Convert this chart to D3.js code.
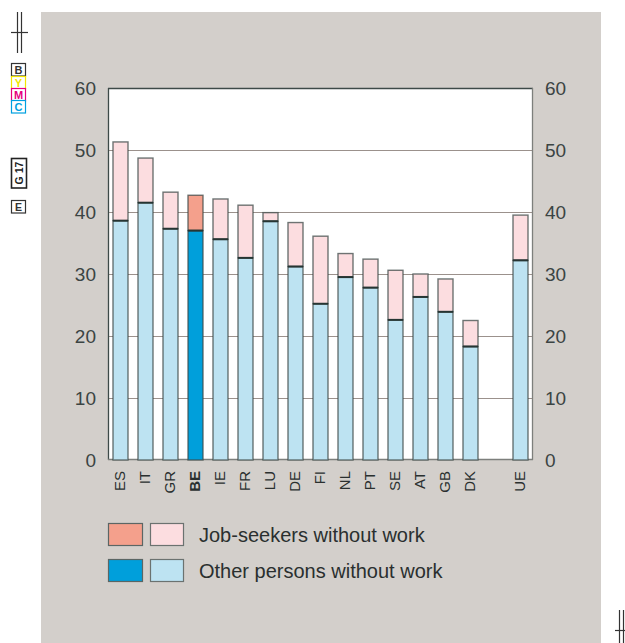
<!DOCTYPE html>
<html>
<head>
<meta charset="utf-8">
<script src="https://cdn.jsdelivr.net/npm/d3@7"></script>
<style>
  html, body { margin: 0; padding: 0; background: #ffffff; }
  svg { display: block; font-family: "Liberation Sans", Arial, sans-serif; }
</style>
</head>
<body>
<svg id="chart" width="625" height="643"></svg>
<script>
// Share of people without work, by country (%)
const countries = ["ES", "IT", "GR", "BE", "IE", "FR", "LU", "DE", "FI", "NL", "PT", "SE", "AT", "GB", "DK", "", "UE"];
const otherPersons = [38.6, 41.5, 37.3, 37.0, 35.6, 32.6, 38.5, 31.2, 25.2, 29.5, 27.8, 22.6, 26.3, 23.9, 18.3, null, 32.2];
const totalWithoutWork = [51.3, 48.7, 43.2, 42.7, 42.1, 41.1, 39.9, 38.3, 36.1, 33.3, 32.4, 30.6, 30.0, 29.2, 22.5, null, 39.5];
const yTicks = [0, 10, 20, 30, 40, 50, 60];
const highlight = "BE";
const legendLabels = ["Job-seekers without work", "Other persons without work"];

const colors = {
  seekLight: "#fcdde0", seekDark: "#f4a08c",
  otherLight: "#bde3f2", otherDark: "#009fdb",
  panel: "#d3cfcb", text: "#3b4443", stroke: "#3d4a48", grid: "#9b918c"
};

const svg = d3.select("#chart");

// print-style margin marks
const marks = svg.append("g").attr("stroke", "#333").attr("fill", "none").attr("stroke-width", 1.2);
marks.append("line").attr("x1", 17.5).attr("x2", 17.5).attr("y1", 12).attr("y2", 53);
marks.append("line").attr("x1", 21.5).attr("x2", 21.5).attr("y1", 12).attr("y2", 53);
marks.append("line").attr("x1", 11).attr("x2", 28).attr("y1", 32.5).attr("y2", 32.5);
marks.append("line").attr("x1", 619.5).attr("x2", 619.5).attr("y1", 610).attr("y2", 643);
marks.append("line").attr("x1", 623.5).attr("x2", 623.5).attr("y1", 610).attr("y2", 643);
marks.append("line").attr("x1", 615).attr("x2", 625).attr("y1", 630.5).attr("y2", 630.5);

const boxes = [
  { t: "B", y: 63, c: "#333" },
  { t: "Y", y: 76, c: "#f2e600" },
  { t: "M", y: 88, c: "#e5007e" },
  { t: "C", y: 100, c: "#00a0e0" }
];
boxes.forEach(b => {
  svg.append("rect").attr("x", 11.5).attr("y", b.y + 0.5).attr("width", 14).attr("height", 12.5)
    .attr("fill", "#fff").attr("stroke", b.c).attr("stroke-width", 1.2);
  svg.append("text").attr("x", 18.5).attr("y", b.y + 11).attr("text-anchor", "middle")
    .attr("font-size", 11).attr("font-weight", "bold").attr("fill", b.c).text(b.t);
});
svg.append("rect").attr("x", 11.5).attr("y", 158.5).attr("width", 15).attr("height", 29.5)
  .attr("fill", "#fff").attr("stroke", "#222").attr("stroke-width", 1.6);
svg.append("text").attr("transform", "translate(23,173) rotate(-90)").attr("text-anchor", "middle")
  .attr("font-size", 10.5).attr("font-weight", "bold").attr("fill", "#222").text("G 17");
svg.append("rect").attr("x", 11.5).attr("y", 200.5).attr("width", 14).attr("height", 12.5)
  .attr("fill", "#fff").attr("stroke", "#333").attr("stroke-width", 1.2);
svg.append("text").attr("x", 18.5).attr("y", 211).attr("text-anchor", "middle")
  .attr("font-size", 10.5).attr("font-weight", "bold").attr("fill", "#333").text("E");

// grey panel
svg.append("rect").attr("x", 41).attr("y", 12).attr("width", 560).attr("height", 631).attr("fill", colors.panel);

const plot = { left: 108, right: 533, top: 88, bottom: 460 };

const x = d3.scaleBand().domain(countries.map((c, i) => i)).range([plot.left, plot.right])
  .paddingInner(0.4).paddingOuter(0.2);
const y = d3.scaleLinear().domain([0, 60]).range([plot.bottom, plot.top]);

svg.append("rect").attr("x", plot.left).attr("y", plot.top)
  .attr("width", plot.right - plot.left).attr("height", plot.bottom - plot.top).attr("fill", "#fff");

// gridlines
svg.append("g").selectAll("line").data(yTicks.filter(v => v > 0 && v < 60)).join("line")
  .attr("x1", plot.left).attr("x2", plot.right)
  .attr("y1", d => Math.round(y(d)) + 0.5).attr("y2", d => Math.round(y(d)) + 0.5)
  .attr("stroke", colors.grid).attr("stroke-width", 1.2);

// frame
svg.append("line").attr("x1", plot.left).attr("x2", plot.right).attr("y1", plot.top + 0.5).attr("y2", plot.top + 0.5)
  .attr("stroke", "#3d4a48").attr("stroke-width", 1.3);
svg.append("line").attr("x1", plot.right - 0.5).attr("x2", plot.right - 0.5).attr("y1", plot.top).attr("y2", plot.bottom)
  .attr("stroke", "#7d7f7c").attr("stroke-width", 1.3);
svg.append("line").attr("x1", plot.left + 0.5).attr("x2", plot.left + 0.5).attr("y1", plot.top).attr("y2", plot.bottom)
  .attr("stroke", "#3d4a48").attr("stroke-width", 1.3);
svg.append("line").attr("x1", plot.left).attr("x2", plot.right).attr("y1", plot.bottom - 0.5).attr("y2", plot.bottom - 0.5)
  .attr("stroke", "#7d7f7c").attr("stroke-width", 1.3);

// bars
const idx = d3.range(countries.length).filter(i => otherPersons[i] != null);
const bars = svg.append("g");
bars.selectAll("rect.seek").data(idx).join("rect").attr("class", "seek")
  .attr("x", i => x(i)).attr("width", x.bandwidth())
  .attr("y", i => y(totalWithoutWork[i])).attr("height", i => y(otherPersons[i]) - y(totalWithoutWork[i]))
  .attr("fill", i => countries[i] === highlight ? colors.seekDark : colors.seekLight)
  .attr("stroke", colors.stroke).attr("stroke-width", 1.4).attr("stroke-opacity", 0.75);
bars.selectAll("rect.other").data(idx).join("rect").attr("class", "other")
  .attr("x", i => x(i)).attr("width", x.bandwidth())
  .attr("y", i => y(otherPersons[i])).attr("height", i => y(0) - y(otherPersons[i]))
  .attr("fill", i => countries[i] === highlight ? colors.otherDark : colors.otherLight)
  .attr("stroke", colors.stroke).attr("stroke-width", 1.4).attr("stroke-opacity", 0.75);
bars.selectAll("line.sep").data(idx).join("line").attr("class", "sep")
  .attr("x1", i => x(i)).attr("x2", i => x(i) + x.bandwidth())
  .attr("y1", i => y(otherPersons[i])).attr("y2", i => y(otherPersons[i]))
  .attr("stroke", "#263533").attr("stroke-width", 2);

// value axes, both sides
const leftAxis = svg.append("g").attr("transform", `translate(${plot.left},0)`)
  .call(d3.axisLeft(y).tickValues(yTicks).tickSize(0).tickPadding(12));
const rightAxis = svg.append("g").attr("transform", `translate(${plot.right},0)`)
  .call(d3.axisRight(y).tickValues(yTicks).tickSize(0).tickPadding(12));
[leftAxis, rightAxis].forEach(a => {
  a.select(".domain").remove();
  a.selectAll("text").attr("font-size", 19).attr("fill", colors.text)
    .attr("font-family", "Liberation Sans, Arial, sans-serif");
});

// category labels
svg.append("g").selectAll("text").data(idx).join("text")
  .attr("transform", i => `translate(${x(i) + x.bandwidth() / 2 + 4},${plot.bottom + 11}) rotate(-90)`)
  .attr("text-anchor", "end")
  .attr("font-size", 15)
  .attr("font-weight", i => countries[i] === highlight ? "bold" : "normal")
  .attr("fill", "#2a2f2f")
  .text(i => countries[i]);

// legend
const legendRows = [
  { dark: colors.seekDark, light: colors.seekLight, label: legendLabels[0], y: 523 },
  { dark: colors.otherDark, light: colors.otherLight, label: legendLabels[1], y: 559 }
];
const lg = svg.append("g");
legendRows.forEach(r => {
  lg.append("rect").attr("x", 108.5).attr("y", r.y + 0.5).attr("width", 34).attr("height", 22)
    .attr("fill", r.dark).attr("stroke", "#5b6664").attr("stroke-width", 1.2);
  lg.append("rect").attr("x", 150.5).attr("y", r.y + 0.5).attr("width", 33).attr("height", 22)
    .attr("fill", r.light).attr("stroke", "#6b7270").attr("stroke-width", 1.2);
  lg.append("text").attr("x", 199).attr("y", r.y + 18.5).attr("font-size", 20)
    .attr("fill", "#2a2f2f").text(r.label);
});
</script>
</body>
</html>
